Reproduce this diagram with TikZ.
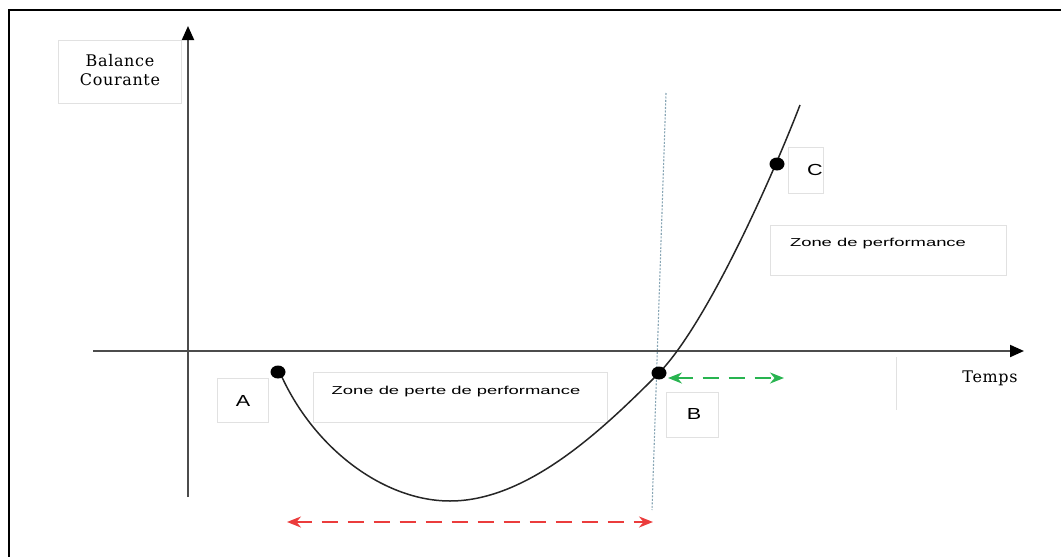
\documentclass[tikz,border=0pt]{standalone}
\usepackage{fontspec}
\setmainfont{DejaVu Serif}
\newfontfamily\sansf{Liberation Sans}
\newfontfamily\serifsp[LetterSpace=4]{DejaVu Serif}
\usetikzlibrary{arrows.meta}
\definecolor{boxgray}{RGB}{225,225,225}
\definecolor{dashred}{RGB}{235,60,60}
\definecolor{dashgreen}{RGB}{40,180,80}
\definecolor{guide}{RGB}{135,165,180}
\tikzset{
  lbox/.style={draw=boxgray, line width=0.9pt},
  axis/.style={line width=2pt, draw=black!70, -{Triangle[length=14pt,width=12pt,color=black]}},
  letter/.style={font=\sansf\fontsize{16}{16}\selectfont},
  serif/.style={font=\serifsp\fontsize{16}{19}\selectfont, align=center},
  zone/.style={font=\sansf\fontsize{11.5}{13}\selectfont},
  span/.style={line width=2pt, dash pattern=on 16pt off 10pt, {Stealth[length=14pt,width=11pt]}-{Stealth[length=14pt,width=11pt]}},
}
\begin{document}
\begin{tikzpicture}[x=1pt,y=-1pt]
\useasboundingbox (0,0) rectangle (1061,557);
% frame
\draw[line width=2.5pt] (9,557) -- (9,10) -- (1061,10);
% label boxes
\draw[lbox] (58,40) rectangle (181,103);
\draw[lbox] (217,378) rectangle (268,422);
\draw[lbox] (313,372) rectangle (607,422);
\draw[lbox] (666,392) rectangle (718,437);
\draw[lbox] (788,147) rectangle (823,193);
\draw[lbox] (770,225) rectangle (1006,275);
\draw[draw=boxgray, line width=0.9pt] (896,357) -- (896,410);
% guide line
\coordinate (gt) at (666,93);
\coordinate (gb) at (652,510);
\draw[guide, line width=1.1pt, dash pattern=on 2pt off 1.5pt] (gt) -- (gb);
% axes
\coordinate (yb) at (188,497);
\coordinate (yt) at (188,26);
\coordinate (xl) at (93,351);
\coordinate (xr) at (1024,351);
\draw[axis] (yb) -- (yt);
\draw[axis] (xl) -- (xr);
% points
\coordinate (A) at (278,372);
\coordinate (B) at (659,373);
\coordinate (C) at (777,164);
% curve
\draw[line width=1.5pt, black!85] (281,375)
  .. controls (315,450) and (385,501) .. (450,501)
  .. controls (530,501) and (607,425) .. (B)
  .. controls (709,321) and (775,170) .. (800,105);
\fill (A) ellipse (7.5pt and 6.5pt);
\fill (B) ellipse (7.5pt and 6.5pt);
\fill (C) ellipse (7.5pt and 6.5pt);
\node[letter] (lA) at (243,401) {\scalebox{1.35}[1]{A}};
\node[letter] (lB) at (694,414) {\scalebox{1.35}[1]{B}};
\node[letter] (lC) at (815,170) {\scalebox{1.35}[1]{C}};
% texts
\node[serif] (bal) at (120,70) {Balance\\Courante};
\node[serif] (temps) at (990,378) {Temps};
\node[zone] (z1) at (456,392) {\scalebox{1.6}[1]{Zone de perte de performance}};
\node[zone] (z2) at (878,244) {\scalebox{1.6}[1]{Zone de performance}};
% spans
\coordinate (r1) at (287,522);
\coordinate (r2) at (653,522);
\draw[span, dashred] (r1) -- (r2);
\coordinate (g1) at (668,378);
\coordinate (g2) at (784,378);
\draw[span, dashgreen] (g1) -- (g2);
\end{tikzpicture}
\end{document}
